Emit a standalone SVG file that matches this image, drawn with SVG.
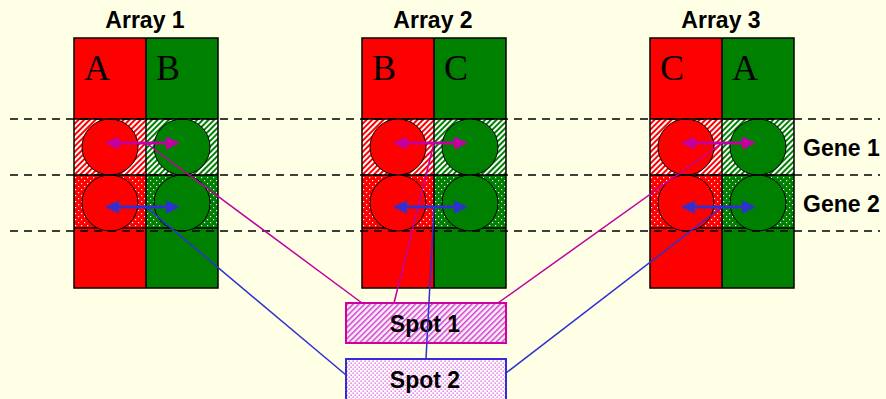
<svg xmlns="http://www.w3.org/2000/svg" width="886" height="399" viewBox="0 0 886 399">
  <defs>
    <pattern id="hatchRed" width="4" height="4" patternUnits="userSpaceOnUse" patternTransform="rotate(45)">
      <rect width="4" height="4" fill="#ffffff"/>
      <rect width="2" height="4" fill="#ff0000"/>
    </pattern>
    <pattern id="hatchGreen" width="4" height="4" patternUnits="userSpaceOnUse" patternTransform="rotate(45)">
      <rect width="4" height="4" fill="#ffffff"/>
      <rect width="2" height="4" fill="#008000"/>
    </pattern>
    <pattern id="dotRed" width="6" height="6" patternUnits="userSpaceOnUse">
      <rect width="6" height="6" fill="#ff0000"/>
      <rect x="1" y="1" width="1.2" height="1.2" fill="#ffffff"/>
      <rect x="4" y="4" width="1.2" height="1.2" fill="#ffffff"/>
    </pattern>
    <pattern id="dotGreen" width="6" height="6" patternUnits="userSpaceOnUse">
      <rect width="6" height="6" fill="#008000"/>
      <rect x="1" y="1" width="1.2" height="1.2" fill="#ffffff"/>
      <rect x="4" y="4" width="1.2" height="1.2" fill="#ffffff"/>
    </pattern>
    <pattern id="hatchPink" width="4" height="4" patternUnits="userSpaceOnUse" patternTransform="rotate(45)">
      <rect width="4" height="4" fill="#fff0ff"/>
      <rect width="1.5" height="4" fill="#d040c8"/>
    </pattern>
    <pattern id="dotPink" width="4" height="4" patternUnits="userSpaceOnUse">
      <rect width="4" height="4" fill="#ffffff"/>
      <rect x="0.5" y="0.5" width="1.3" height="1.3" fill="#e050e0"/>
      <rect x="2.5" y="2.5" width="1.3" height="1.3" fill="#e050e0"/>
    </pattern>
    <marker id="headM" viewBox="0 0 10 10" refX="9" refY="5" markerWidth="4.5" markerHeight="4.5" orient="auto-start-reverse" markerUnits="strokeWidth">
      <path d="M0,0 L10,5 L0,10 z" fill="#c000a0"/>
    </marker>
    <marker id="headB" viewBox="0 0 10 10" refX="9" refY="5" markerWidth="4.5" markerHeight="4.5" orient="auto-start-reverse" markerUnits="strokeWidth">
      <path d="M0,0 L10,5 L0,10 z" fill="#3030d0"/>
    </marker>
    <!-- one array: two coloured columns with two spot rows -->
    <g id="arrayBody">
      <rect x="0" y="0" width="72" height="250" fill="#ff0000"/>
      <rect x="72" y="0" width="72" height="250" fill="#008000"/>
      <rect x="0" y="81" width="72" height="56" fill="url(#hatchRed)"/>
      <rect x="72" y="81" width="72" height="56" fill="url(#hatchGreen)"/>
      <rect x="0" y="137" width="72" height="53" fill="url(#dotRed)"/>
      <rect x="72" y="137" width="72" height="53" fill="url(#dotGreen)"/>
      <line x1="0" y1="81" x2="144" y2="81" class="edge"/>
      <line x1="0" y1="137" x2="144" y2="137" class="edge"/>
      <line x1="0" y1="190" x2="144" y2="190" class="edge"/>
      <line x1="72" y1="0" x2="72" y2="250" class="edge"/>
      <rect x="0" y="0" width="144" height="250" fill="none" class="edge"/>
    </g>
  </defs>
  <style>
    .edge { stroke: #000; stroke-width: 1.5; fill: none; }
    .spotR { fill: #ff0000; stroke: #000; stroke-width: 1; }
    .spotG { fill: #008000; stroke: #000; stroke-width: 1; }
    .title { font-family: "Liberation Sans", Arial, sans-serif; font-weight: bold; font-size: 23px; text-anchor: middle; fill: #000; }
    .letter { font-family: "Liberation Serif", "Times New Roman", serif; font-size: 36px; fill: #000; }
    .gene { font-family: "Liberation Sans", Arial, sans-serif; font-weight: bold; font-size: 23px; fill: #000; }
    .spotLabel { font-family: "Liberation Sans", Arial, sans-serif; font-weight: bold; font-size: 23px; text-anchor: middle; fill: #000; }
    .dash { stroke: #000; stroke-width: 1.5; stroke-dasharray: 8 6; }
    .linkM { stroke: #c000a0; stroke-width: 1.5; fill: none; }
    .linkB { stroke: #3030d0; stroke-width: 1.5; fill: none; }
    .arrM { stroke: #c000a0; stroke-width: 3; marker-start: url(#headM); marker-end: url(#headM); }
    .arrB { stroke: #3030d0; stroke-width: 3; marker-start: url(#headB); marker-end: url(#headB); }
  </style>

  <rect width="886" height="399" fill="#ffffe6"/>

  <g id="array1">
    <use href="#arrayBody" x="74" y="38"/>
    <circle cx="110" cy="147" r="28" class="spotR"/>
    <circle cx="182" cy="147" r="28" class="spotG"/>
    <circle cx="110" cy="203" r="28" class="spotR"/>
    <circle cx="182" cy="203" r="28" class="spotG"/>
    <text x="145" y="28" class="title">Array 1</text>
    <text x="84" y="80" class="letter">A</text>
    <text x="156" y="80" class="letter">B</text>
  </g>

  <g id="array2">
    <use href="#arrayBody" x="362" y="38"/>
    <circle cx="398" cy="147" r="28" class="spotR"/>
    <circle cx="470" cy="147" r="28" class="spotG"/>
    <circle cx="398" cy="203" r="28" class="spotR"/>
    <circle cx="470" cy="203" r="28" class="spotG"/>
    <text x="433" y="28" class="title">Array 2</text>
    <text x="372" y="80" class="letter">B</text>
    <text x="444" y="80" class="letter">C</text>
  </g>

  <g id="array3">
    <use href="#arrayBody" x="650" y="38"/>
    <circle cx="686" cy="147" r="28" class="spotR"/>
    <circle cx="758" cy="147" r="28" class="spotG"/>
    <circle cx="686" cy="203" r="28" class="spotR"/>
    <circle cx="758" cy="203" r="28" class="spotG"/>
    <text x="721" y="28" class="title">Array 3</text>
    <text x="660" y="80" class="letter">C</text>
    <text x="732" y="80" class="letter">A</text>
  </g>

  <g id="rows">
    <line x1="10" y1="119" x2="880" y2="119" class="dash"/>
    <line x1="10" y1="175" x2="880" y2="175" class="dash"/>
    <line x1="10" y1="231" x2="880" y2="231" class="dash"/>
    <rect x="800" y="134" width="86" height="30" fill="#ffffe6"/>
    <rect x="800" y="190" width="86" height="30" fill="#ffffe6"/>
    <text x="803" y="156" class="gene">Gene 1</text>
    <text x="803" y="212" class="gene">Gene 2</text>
  </g>

  <g id="spot1">
    <rect x="346" y="303" width="160" height="40" fill="url(#hatchPink)" stroke="#d000a0" stroke-width="2"/>
    <text x="425" y="332" class="spotLabel">Spot 1</text>
  </g>

  <g id="spot2">
    <rect x="346" y="359" width="160" height="46" fill="url(#dotPink)" stroke="#3030d0" stroke-width="2"/>
    <text x="425" y="388" class="spotLabel">Spot 2</text>
  </g>

  <g id="connectors">
    <line x1="146" y1="143" x2="362" y2="303" class="linkM"/>
    <line x1="434" y1="143" x2="394" y2="303" class="linkM"/>
    <line x1="722" y1="143" x2="498" y2="303" class="linkM"/>
    <line x1="146" y1="207" x2="346" y2="375" class="linkB"/>
    <line x1="434" y1="207" x2="426" y2="359" class="linkB"/>
    <line x1="722" y1="207" x2="506" y2="373" class="linkB"/>
    <line x1="107" y1="143" x2="178" y2="143" class="arrM"/>
    <line x1="395" y1="143" x2="466" y2="143" class="arrM"/>
    <line x1="683" y1="143" x2="754" y2="143" class="arrM"/>
    <line x1="107" y1="207" x2="178" y2="207" class="arrB"/>
    <line x1="395" y1="207" x2="466" y2="207" class="arrB"/>
    <line x1="683" y1="207" x2="754" y2="207" class="arrB"/>
  </g>
</svg>
